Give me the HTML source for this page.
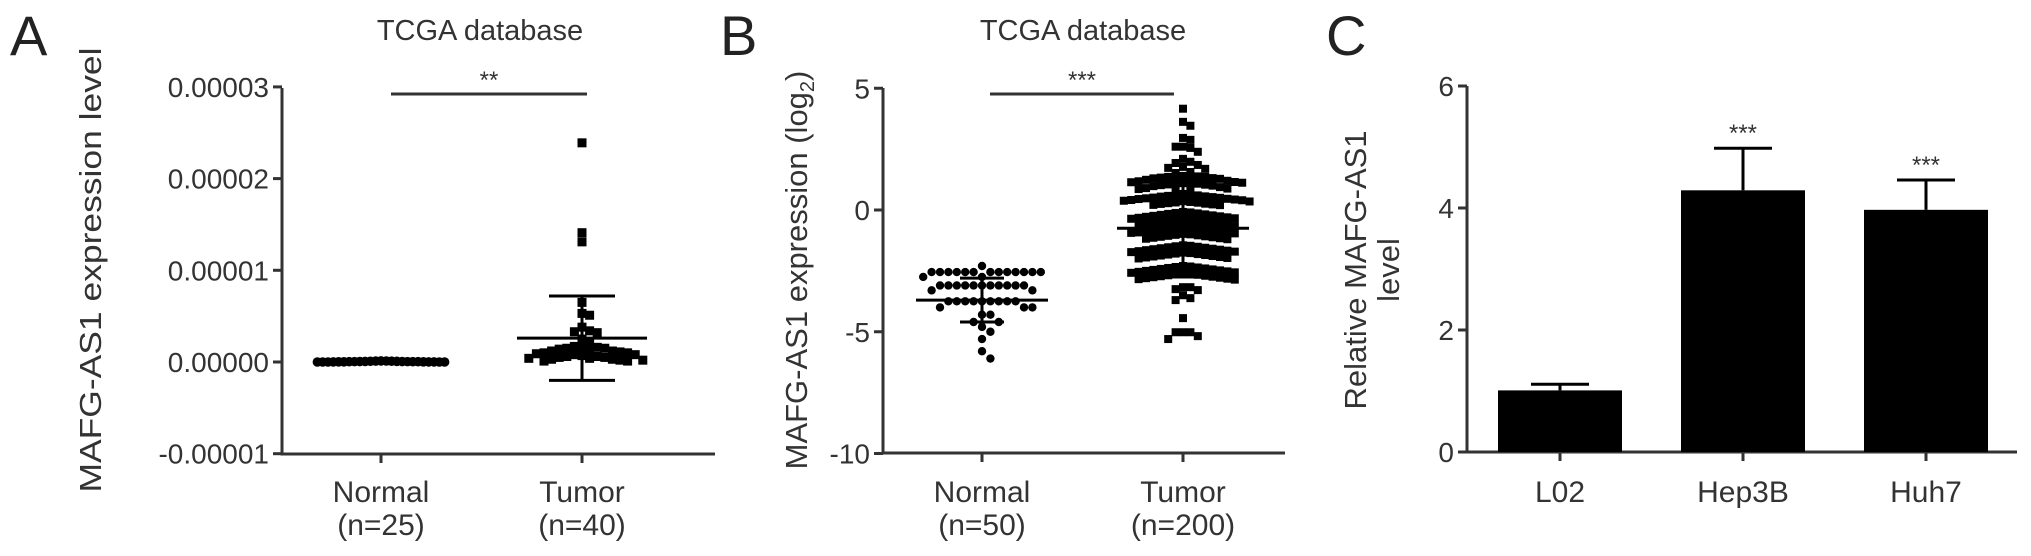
<!DOCTYPE html>
<html><head><meta charset="utf-8"><style>
html,body{margin:0;padding:0;background:#fff;}
svg{display:block;font-family:"Liberation Sans",Arial,sans-serif;}
</style></head><body>
<svg id="fig" width="2031" height="556" viewBox="0 0 2031 556" xmlns="http://www.w3.org/2000/svg">
<g id="gA"></g>
<g id="gB"></g>
<g id="gC"></g>
</svg>
<script>
// ---- Panel A data (units 1e-5) ----
const aCategories = ["Normal", "Tumor"];
const aCatSub = ["(n=25)", "(n=40)"];
const aTicks = [3, 2, 1, 0, -1];
const aTickLabels = ["0.00003", "0.00002", "0.00001", "0.00000", "-0.00001"];
const aNormal = [0.012,0.011,0.010,0.009,0.008,0.007,0.006,0.005,0.005,0.004,0.004,0.003,0.003,0.003,0.002,0.002,0.002,0.001,0.001,0.001,0.000,0.000,0.000,0.000,0.000];
const aTumor = [2.39,1.41,1.31,0.65,0.53,0.51,0.38,0.34,0.33,0.32,0.25,0.22,0.16,0.17,0.16,0.15,0.15,0.14,0.13,0.12,0.12,0.11,0.10,0.10,0.09,0.08,0.08,0.07,0.06,0.06,0.05,0.05,0.04,0.04,0.03,0.03,0.02,0.02,0.01,0.01];
const aNormalStats = [0.004, 0.004];   // mean, sd
const aTumorStats = [0.26, 0.46];
// ---- Panel B data (log2) ----
const bCategories = ["Normal", "Tumor"];
const bCatSub = ["(n=50)", "(n=200)"];
const bTicks = [5, 0, -5, -10];
const bNormal = [-2.3,-2.55,-2.55,-2.55,-2.55,-2.55,-2.55,-2.55,-2.55,-2.55,-2.55,-2.55,-2.55,-2.55,-2.75,-2.75,
 -3.1,-3.1,-3.1,-3.1,-3.1,-3.1,-3.1,-3.1,-3.1,-3.1,-3.1,-3.3,-3.3,
 -3.75,-3.75,-3.75,-3.75,-3.75,-3.75,-3.75,-3.75,-3.75,-4.0,-4.0,-4.0,-4.3,-4.3,-4.6,-4.6,-4.8,-5.0,-5.3,-5.8,-6.1];
const bTumor = [4.16,3.62,3.46,2.96,2.88,2.6,2.55,2.39,2.6,2.1,1.93,1.77,1.69,1.52,1.36,1.56,1.73,1.85,1.98,
 -3.17,-3.25,-3.5,-3.7,-3.62,-3.29,-3.17,-4.44,-5.02,-5.02,-5.3,-5.18,-5.02,
 1.4,1.38,1.36,1.33,1.31,1.3,1.28,1.25,1.24,1.22,1.2,1.18,1.15,1.14,1.12,1.1,1.08,1.05,1.04,1.02,1.0,0.98,0.95,0.94,0.92,0.9,0.88,0.86,
 0.66,0.64,0.62,0.6,0.58,0.56,0.55,0.53,0.51,0.5,0.48,0.46,0.45,0.43,0.41,0.4,0.38,0.36,0.35,0.33,0.31,0.3,0.28,0.26,0.25,0.23,0.21,0.2,
 -0.08,-0.1,-0.12,-0.14,-0.16,-0.18,-0.2,-0.22,-0.24,-0.26,-0.28,-0.3,-0.32,-0.34,-0.36,-0.38,-0.4,-0.42,-0.44,-0.46,-0.48,-0.5,-0.52,-0.54,-0.56,-0.58,-0.6,-0.62,
 -0.66,-0.68,-0.7,-0.72,-0.74,-0.76,-0.78,-0.8,-0.82,-0.84,-0.86,-0.88,-0.9,-0.92,-0.94,-0.96,-0.98,-1.0,-1.02,-1.04,-1.06,-1.08,-1.1,-1.12,-1.14,-1.16,-1.18,-1.2,
 -1.45,-1.47,-1.49,-1.51,-1.53,-1.55,-1.57,-1.59,-1.61,-1.63,-1.65,-1.67,-1.69,-1.71,-1.73,-1.75,-1.77,-1.79,-1.81,-1.83,-1.85,-1.87,-1.89,-1.91,-1.93,-1.95,-1.97,-1.99,
 -2.3,-2.32,-2.34,-2.36,-2.38,-2.4,-2.42,-2.44,-2.46,-2.48,-2.5,-2.52,-2.54,-2.56,-2.58,-2.6,-2.62,-2.64,-2.66,-2.68,-2.7,-2.72,-2.74,-2.76,-2.78,-2.8,-2.82,-2.84,-2.86];
const bNormalStats = [-3.7, 0.9];
const bTumorStats = [-0.75, 2.0];
// ---- Panel C data ----
const cCategories = ["L02", "Hep3B", "Huh7"];
const cValues = [1.01, 4.29, 3.97];
const cErrors = [0.10, 0.69, 0.49];
const cSig = ["", "***", "***"];
const cTicks = [0, 2, 4, 6];

const NS = "http://www.w3.org/2000/svg";
function mk(parent, tag, attrs, text) {
  const e = document.createElementNS(NS, tag);
  for (const k in attrs) e.setAttribute(k, attrs[k]);
  if (text !== undefined) e.textContent = text;
  parent.appendChild(e);
  return e;
}
const TXT = "#333", AX = "#333";

function swarm(vals, cx, ys, s) {
  const placed = [];
  const sorted = vals.map(v => ys(v)).sort((a, b) => a - b);
  for (const y of sorted) {
    let k = 0, x = cx;
    while (true) {
      const off = k === 0 ? 0 : (k % 2 ? 1 : -1) * Math.ceil(k / 2) * s;
      x = cx + off;
      if (!placed.some(p => Math.hypot(p[0] - x, p[1] - y) < s * 0.98)) break;
      k++;
    }
    placed.push([x, y]);
  }
  return placed;
}

function axesCommon(g, x0, x1, yTop, yBot, ys, ticks, labels, catX, cats, subs) {
  const yAxis = mk(g, "line", {x1: x0, y1: yTop, x2: x0, y2: yBot, stroke: AX, "stroke-width": 3});
  
  
  const xAxis = mk(g, "line", {x1: x0 - 1.5, y1: yBot, x2: x1, y2: yBot, stroke: AX, "stroke-width": 3});
  
  
  ticks.forEach((t, i) => {
    const y = ys(t);
    const tk = mk(g, "line", {x1: x0 - 9, y1: y, x2: x0, y2: y, stroke: AX, "stroke-width": 3});
    
    
    const tl = mk(g, "text", {x: x0 - 13, y: y + 10, "text-anchor": "end", "font-size": 28, fill: TXT}, labels[i]);
    
    
  });
  cats.forEach((c, i) => {
    const tk = mk(g, "line", {x1: catX[i], y1: yBot, x2: catX[i], y2: yBot + 9, stroke: AX, "stroke-width": 3});
    
    
    const t = mk(g, "text", {x: catX[i], y: 502, "text-anchor": "middle", "font-size": 30, fill: TXT}, c);
    
    
    if (subs) {
      const t2 = mk(g, "text", {x: catX[i], y: 535, "text-anchor": "middle", "font-size": 30, fill: TXT}, subs[i]);
      
      
    }
  });
}

function meanSd(g, cx, ys, stats, halfMean, halfCap) {
  const m = ys(stats[0]), hi = ys(stats[0] + stats[1]), lo = ys(stats[0] - stats[1]);
  const l1 = mk(g, "line", {x1: cx - halfMean, y1: m, x2: cx + halfMean, y2: m, stroke: "#000", "stroke-width": 3});
  
  
  const l2 = mk(g, "line", {x1: cx, y1: hi, x2: cx, y2: lo, stroke: "#000", "stroke-width": 3});
  
  
  [hi, lo].forEach(y => {
    const c = mk(g, "line", {x1: cx - halfCap, y1: y, x2: cx + halfCap, y2: y, stroke: "#000", "stroke-width": 3});
    
    
  });
}

function header(g, letter, lx, title, tx, sig, sx1, sx2) {
  const L = mk(g, "text", {x: lx, y: 55, "font-size": 56, fill: "#222"}, letter);
  
  
  if (title) {
    const T = mk(g, "text", {x: tx, y: 40, "text-anchor": "middle", "font-size": 29, fill: TXT}, title);
    
    
  }
  if (sig) {
    const s = mk(g, "line", {x1: sx1, y1: 94, x2: sx2, y2: 94, stroke: AX, "stroke-width": 3});
    
    
    const st = mk(g, "text", {x: (sx1 + sx2) / 2, y: 88, "text-anchor": "middle", "font-size": 24, fill: TXT}, sig);
    
    
  }
}

// ---------- Panel A ----------
(function () {
  const g = document.getElementById("gA");
  const y0 = 362, ppu = 91.7;
  const ys = v => y0 - v * ppu;
  const catX = [381, 582];
  header(g, "A", 10, "TCGA database", 480, "**", 391, 587);
  axesCommon(g, 282, 715, 88, 454, ys, aTicks, aTickLabels, catX, aCategories, aCatSub);
  const yt = mk(g, "text", {transform: "translate(101,270) rotate(-90)", "text-anchor": "middle", "font-size": 31, fill: TXT, textLength: 445, lengthAdjust: "spacingAndGlyphs"}, "MAFG-AS1 expression level");
  
  
  swarm(aNormal, catX[0], ys, 5.3).forEach(p => {
    const c = mk(g, "circle", {cx: p[0], cy: p[1], r: 4.8, fill: "#000"});
    
    
  });
  meanSd(g, catX[0], ys, aNormalStats, 62, 30);
  swarm(aTumor, catX[1], ys, 7.6).forEach(p => {
    const r = mk(g, "rect", {x: p[0] - 4.5, y: p[1] - 4.5, width: 9, height: 9, fill: "#000"});
    
    
  });
  meanSd(g, catX[1], ys, aTumorStats, 65, 33);
})();

// ---------- Panel B ----------
(function () {
  const g = document.getElementById("gB");
  const y0 = 210, ppu = 24.35;
  const ys = v => y0 - v * ppu;
  const catX = [982, 1183];
  header(g, "B", 720, "TCGA database", 1083, "***", 990, 1174);
  axesCommon(g, 883, 1285, 88, 453, ys, bTicks, bTicks.map(String), catX, bCategories, bCatSub);
  const yt = mk(g, "text", {transform: "translate(807,270) rotate(-90)", "text-anchor": "middle", "font-size": 31, fill: TXT}, "");
  
  
  mk(yt, "tspan", {}, "MAFG-AS1 expression (log");
  mk(yt, "tspan", {"font-size": 20, dy: 7}, "2");
  mk(yt, "tspan", {dy: -7}, ")");
  swarm(bNormal, catX[0], ys, 8.4).forEach(p => {
    const c = mk(g, "circle", {cx: p[0], cy: p[1], r: 4.2, fill: "#000"});
    
    
  });
  meanSd(g, catX[0], ys, bNormalStats, 66, 22);
  swarm(bTumor, catX[1], ys, 7.4).forEach(p => {
    const r = mk(g, "rect", {x: p[0] - 4, y: p[1] - 4, width: 8, height: 8, fill: "#000"});
    
    
  });
  meanSd(g, catX[1], ys, bTumorStats, 66, 30);
})();

// ---------- Panel C ----------
(function () {
  const g = document.getElementById("gC");
  const y0 = 452, ppu = 61;
  const ys = v => y0 - v * ppu;
  const catX = [1560, 1743, 1926];
  header(g, "C", 1326, null, 0, null);
  axesCommon(g, 1467, 2017, 86, 452, ys, cTicks, cTicks.map(String), catX, cCategories, null);
  const yt = mk(g, "text", {transform: "translate(1366,270) rotate(-90)", "text-anchor": "middle", "font-size": 31, fill: TXT}, "Relative MAFG-AS1");
  
  
  const yt2 = mk(g, "text", {transform: "translate(1399,270) rotate(-90)", "text-anchor": "middle", "font-size": 31, fill: TXT}, "level");
  
  
  cValues.forEach((v, i) => {
    const cx = catX[i], top = ys(v), et = ys(v + cErrors[i]);
    const eb = mk(g, "line", {x1: cx, y1: top, x2: cx, y2: et, stroke: "#000", "stroke-width": 3});
    
    
    const cap = mk(g, "line", {x1: cx - 29, y1: et, x2: cx + 29, y2: et, stroke: "#000", "stroke-width": 3});
    
    
    const b = mk(g, "rect", {x: cx - 62, y: top, width: 124, height: y0 - top, fill: "#000"});
    
    
    if (cSig[i]) {
      const s = mk(g, "text", {x: cx, y: et - 7, "text-anchor": "middle", "font-size": 24, fill: TXT}, cSig[i]);
      
      
    }
  });
})();
</script>
</body></html>
